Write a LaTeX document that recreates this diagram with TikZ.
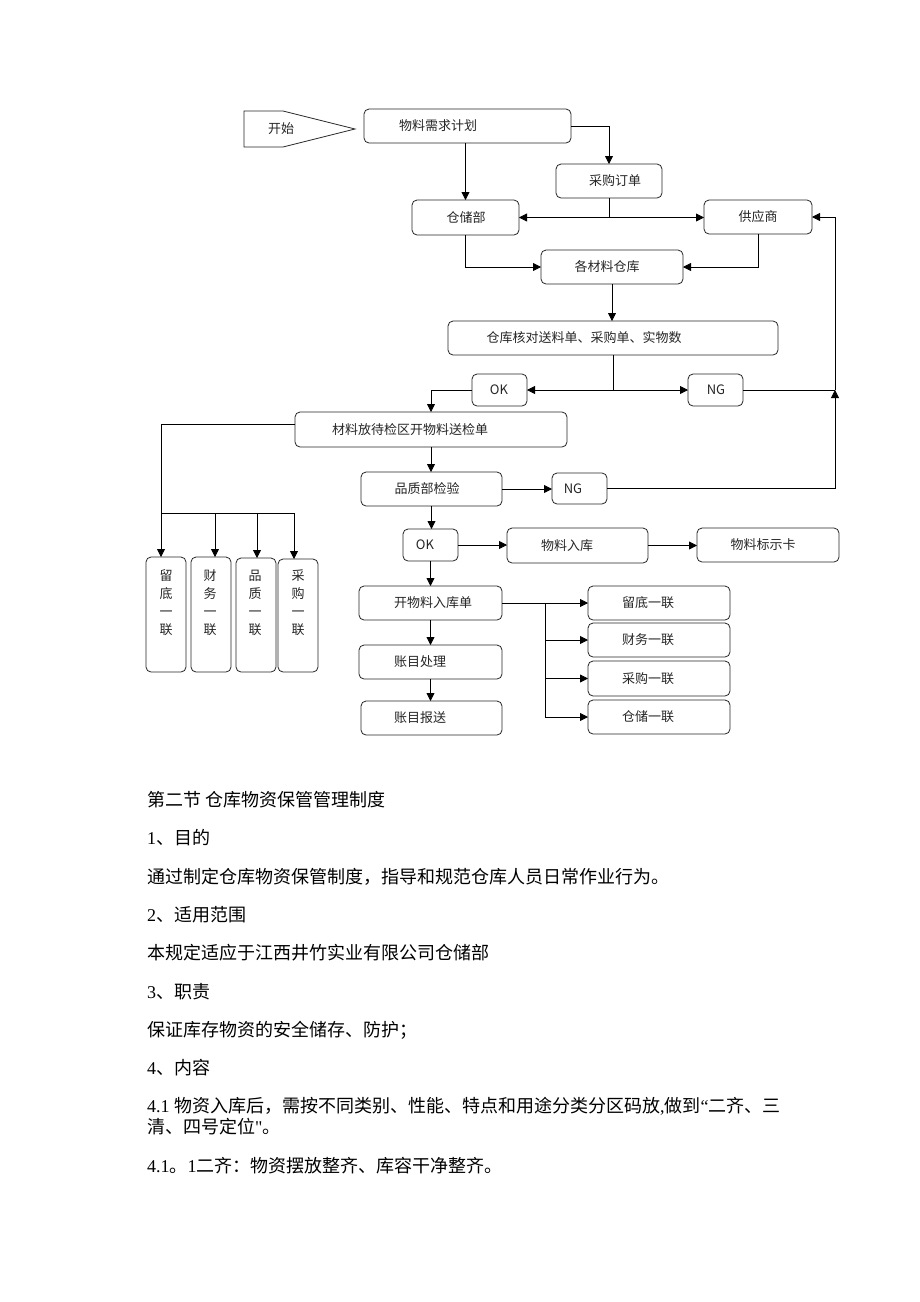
\documentclass[tikz,border=0pt]{standalone}
\usepackage{fontspec}
\setmainfont{Liberation Serif}
\newfontfamily\rawserif[Ligatures=TeXOff]{Liberation Serif}
\newfontfamily\cjk{Noto Sans CJK SC}
\usetikzlibrary{arrows.meta}
\tikzset{
 box/.style={draw=black!85, line width=0.8pt, rounded corners=5pt, inner sep=0pt, outer sep=0pt},
 lbl/.style={font=\cjk\fontsize{13}{15}\selectfont, text=black!85, inner sep=0pt},
 vlbl/.style={font=\cjk\fontsize{13}{18}\selectfont, text=black!85, inner sep=0pt, align=center},
 arr/.style={-{Triangle[length=8pt,width=8pt]}, line width=0.8pt, draw=black},
 ln/.style={line width=0.8pt, draw=black},
 body/.style={anchor=west, inner sep=0pt, font=\fontsize{18}{20}\selectfont, text=black},
}
\newcommand\bx[7]{\node[box, minimum width={#4pt-#2pt}, minimum height={#5pt-#3pt}] (#1) at ({(#2+#4)/2},{(#3+#5)/2}) {};
\node[lbl] (#1t) at (#6,{(#3+#5)/2}) {#7};}
\begin{document}
\begin{tikzpicture}[x=1pt,y=-1pt]
\fill[white] (0,0) rectangle (920,1302);
\useasboundingbox (0,0) rectangle (920,1302);
% start pentagon
\draw[black!85, line width=0.8pt] (244,111) coordinate (s1) -- (283,111) -- (355,129) coordinate (stip) -- (283,147) -- (244,147) -- cycle;
\node[lbl] (start) at (281,129) {开始};
% boxes
\bx{plan}{364}{109}{571}{143}{438}{物料需求计划}
\bx{cgd}{412}{200}{519}{235}{466}{仓储部}
\bx{cgdd}{556}{164}{662}{198}{615}{采购订单}
\bx{gys}{704}{200}{812}{234}{758}{供应商}
\bx{gcl}{541}{250}{683}{284}{607}{各材料仓库}
\bx{hd}{448}{321}{778}{355}{584}{仓库核对送料单、采购单、实物数}
\bx{ok1}{472}{374}{527}{406}{499}{OK}
\bx{ng1}{688}{374}{743}{406}{716}{NG}
\bx{dj}{295}{412}{567}{447}{410}{材料放待检区开物料送检单}
\bx{pz}{361}{472}{502}{506}{427}{品质部检验}
\bx{ng2}{552}{473}{607}{504}{573}{NG}
\bx{ok2}{403}{529}{458}{561}{425}{OK}
\bx{wlrk}{507}{528}{648}{563}{567}{物料入库}
\bx{bsk}{697}{528}{839}{562}{763}{物料标示卡}
\bx{rkd}{359}{586}{502}{620}{433}{开物料入库单}
\bx{zmcl}{359}{645}{502}{679}{420}{账目处理}
\bx{zmbs}{361}{701}{502}{735}{420}{账目报送}
\bx{r1}{588}{586}{730}{620}{648}{留底一联}
\bx{r2}{588}{623}{730}{657}{648}{财务一联}
\bx{r3}{588}{661}{730}{696}{648}{采购一联}
\bx{r4}{588}{700}{730}{734}{648}{仓储一联}
% vertical boxes
\node[box, minimum width=40pt, minimum height=115pt] (v1) at (166,614.5) {};
\node[box, minimum width=40pt, minimum height=115pt] (v2) at (211,614.5) {};
\node[box, minimum width=40pt, minimum height=114pt] (v3) at (256,615) {};
\node[box, minimum width=40pt, minimum height=113pt] (v4) at (298,615.5) {};
\node[vlbl] (v1t) at (166,603) {留\\底\\一\\联};
\node[vlbl] (v2t) at (210,603) {财\\务\\一\\联};
\node[vlbl] (v3t) at (255,603) {品\\质\\一\\联};
\node[vlbl] (v4t) at (298,603) {采\\购\\一\\联};
% connectors
\draw[arr] (plan.east) -| (cgdd.north);
\draw[arr] (plan.south -| cgd.north) -- (cgd.north);
\coordinate (j1) at (cgdd.south |- cgd.east);
\draw[ln] (cgdd.south) -- (j1);
\draw[arr] (j1) -- (cgd.east);
\draw[arr] (j1) -- (j1 -| gys.west);
\draw[arr] (cgd.south) |- (gcl.west);
\draw[arr] (gys.south) |- (gcl.east);
\draw[arr] (gcl.south) -- (gcl.south |- hd.north);
\coordinate (j2) at (hd.south |- ok1.east);
\draw[ln] (hd.south) -- (j2);
\draw[arr] (j2) -- (ok1.east);
\draw[arr] (j2) -- (j2 -| ng1.west);
\draw[arr] (ok1.west) -| (dj.north);
\coordinate (j3) at (835,390);
\draw[ln] (ng1.east) -- (j3);
\draw[arr] (ng2.east) -| (j3);
\draw[arr] (j3) |- (gys.east);
\draw[arr] (dj.south) -- (dj.south |- pz.north);
\draw[arr] (pz.east) -- (pz.east -| ng2.west);
\draw[arr] (pz.south) -- (pz.south |- ok2.north);
\draw[arr] (ok2.east) -- (ok2.east -| wlrk.west);
\draw[arr] (wlrk.east) -- (wlrk.east -| bsk.west);
\draw[arr] (ok2.south) -- (ok2.south |- rkd.north);
\draw[arr] (rkd.south) -- (rkd.south |- zmcl.north);
\draw[arr] (zmcl.south) -- (zmcl.south |- zmbs.north);
\coordinate (j4) at (545,603);
\draw[arr] (rkd.east) -- (rkd.east -| r1.west);
\draw[ln] (j4) -- (j4 |- r4.west);
\draw[arr] (j4 |- r2.west) -- (r2.west);
\draw[arr] (j4 |- r3.west) -- (r3.west);
\draw[arr] (j4 |- r4.west) -- (r4.west);
\coordinate (b1) at (161,513);
\coordinate (b2) at (215,513);
\coordinate (b3) at (257,513);
\coordinate (b4) at (294,513);
\draw[arr] ([yshift=5.5pt]dj.west) -| (v1.north -| b1);
\draw[ln] (b1) -- (b4);
\draw[arr] (b2) -- (b2 |- v2.north);
\draw[arr] (b3) -- (b3 |- v3.north);
\draw[arr] (b4) -- (b4 |- v4.north);
% body text
\node[body] (t1) at (147,800) {{\cjk 第二节 仓库物资保管管理制度}};
\node[body] (t2) at (147,838) {1{\cjk 、目的}};
\node[body] (t3) at (147,877) {{\cjk 通过制定仓库物资保管制度，指导和规范仓库人员日常作业行为。}};
\node[body] (t4) at (147,915) {2{\cjk 、适用范围}};
\node[body] (t5) at (147,953) {{\cjk 本规定适应于江西井竹实业有限公司仓储部}};
\node[body] (t6) at (147,992) {3{\cjk 、职责}};
\node[body] (t7) at (147,1030) {{\cjk 保证库存物资的安全储存、防护；}};
\node[body] (t8) at (147,1068) {4{\cjk 、内容}};
\node[body] (t9) at (147,1106) {4.1 {\cjk 物资入库后，需按不同类别、性能、特点和用途分类分区码放}{,}{\cjk 做到}“{\cjk 二齐、三}};
\node[body] (t10) at (147,1127) {{\cjk 清、四号定位}{\rawserif "}{\cjk 。}};
\node[body] (t11) at (147,1166) {4.1{\cjk 。}1{\cjk 二齐：物资摆放整齐、库容干净整齐。}};
\end{tikzpicture}
\end{document}
